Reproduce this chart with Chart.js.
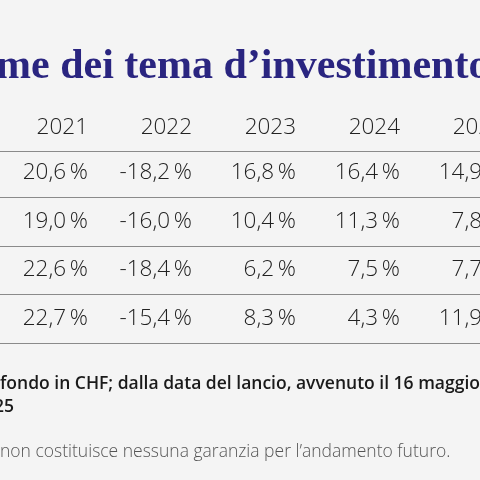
<!DOCTYPE html>
<html>
<head>
<meta charset="utf-8">
<script src="https://cdn.jsdelivr.net/npm/chart.js@4"></script>
<style>
  html, body { margin: 0; padding: 0; background: #f4f4f4; }
  #wrap { width: 480px; height: 480px; position: relative; overflow: hidden; }
</style>
</head>
<body>
<div id="wrap"><canvas id="tableChart"></canvas></div>
<script>
// Dati della tabella
const years = ['2021', '2022', '2023', '2024', '2025'];
const row1 = [20.6, -18.2, 16.8, 16.4, 14.9];
const row2 = [19.0, -16.0, 10.4, 11.3, 7.8];
const row3 = [22.6, -18.4, 6.2, 7.5, 7.7];
const row4 = [22.7, -15.4, 8.3, 4.3, 11.9];
const rows = [row1, row2, row3, row4];

const titleText = 'me dei tema d’investimento';
const noteBold1 = 'fondo in CHF; dalla data del lancio, avvenuto il 16 maggio 2';
const noteBold2 = '25';
const noteText = 'non costituisce nessuna garanzia per l’andamento futuro.';

const fmt = v => v.toFixed(1).replace('.', ',') + '\u2009%';

// Punti: x = colonna, y = riga (header = -0.93)
const headerPoints = years.map((y, i) => ({ x: i, y: -0.93, label: y }));
const cellPoints = [];
rows.forEach((r, ri) => r.forEach((v, ci) => cellPoints.push({ x: ci, y: ri, label: fmt(v) })));

const tablePlugin = {
    id: 'tableText',
    afterDatasetsDraw(chart) {
        const ctx = chart.ctx;
        const xs = chart.scales.x, ys = chart.scales.y;
        ctx.save();
        // linee separatrici
        ctx.strokeStyle = '#8a8a8a';
        ctx.lineWidth = 1;
        [-0.45, 0.5, 1.5, 2.5, 3.5].forEach(v => {
            const py = Math.round(ys.getPixelForValue(v)) + 0.5;
            ctx.beginPath();
            ctx.moveTo(0, py);
            ctx.lineTo(480, py);
            ctx.stroke();
        });
        // testo celle
        ctx.fillStyle = '#222';
        ctx.textAlign = 'right';
        ctx.textBaseline = 'middle';
        ctx.font = '300 22.5px "Open Sans"';
        chart.data.datasets.forEach((ds, di) => {
            const meta = chart.getDatasetMeta(di);
            meta.data.forEach((el, i) => {
                ctx.fillText(ds.data[i].label, el.x, el.y);
            });
        });
        // titolo
        ctx.textAlign = 'left';
        ctx.textBaseline = 'alphabetic';
        ctx.fillStyle = '#2a2580';
        ctx.font = 'bold 42px "Liberation Serif"';
        ctx.fillText(titleText, -4, 78);
        // note
        ctx.fillStyle = '#1a1a1a';
        ctx.font = '600 17.5px "Open Sans"';
        ctx.fillText(noteBold1, 0, 389);
        ctx.fillText(noteBold2, -6, 412);
        ctx.fillStyle = '#555';
        ctx.font = '300 17.5px "Open Sans"';
        ctx.fillText(noteText, 0, 457);
        ctx.restore();
    }
};

const ctx = document.getElementById('tableChart').getContext('2d');
new Chart(ctx, {
    type: 'scatter',
    data: {
        datasets: [
            { data: headerPoints, pointRadius: 0 },
            { data: cellPoints, pointRadius: 0 }
        ]
    },
    options: {
        responsive: true,
        maintainAspectRatio: false,
        animation: false,
        layout: { padding: 0 },
        plugins: { legend: { display: false }, tooltip: { enabled: false } },
        scales: {
            x: { type: 'linear', display: false, min: -0.846, max: 3.769 },
            y: { type: 'linear', display: false, reverse: true, min: -3.567, max: 6.33 }
        }
    },
    plugins: [tablePlugin]
});
</script>
</body>
</html>
